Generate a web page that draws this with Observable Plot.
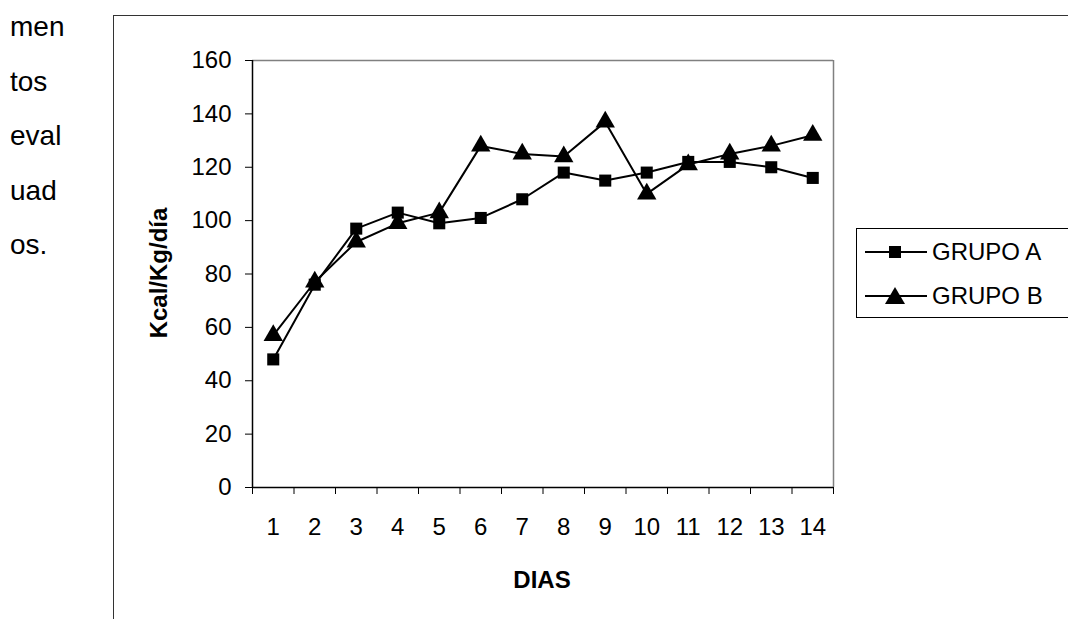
<!DOCTYPE html>
<html>
<head>
<meta charset="utf-8">
<script src="https://cdn.jsdelivr.net/npm/d3@7"></script>
<script src="https://cdn.jsdelivr.net/npm/@observablehq/plot@0.6"></script>
<style>
  html, body { margin: 0; padding: 0; background: #fff; }
  #wrap { position: relative; width: 1068px; height: 619px; overflow: hidden; font-family: "Liberation Sans", Arial, sans-serif; color: #000; background: #fff; }
  #wrap > svg { position: absolute; left: 0; top: 0; }
  .side { position: absolute; left: 10px; font-size: 28px; line-height: 1; }
  #frame { position: absolute; left: 113px; top: 15px; width: 1100px; height: 800px; border: 1.5px solid #333; box-sizing: border-box; }
  #ylab { position: absolute; left: 159px; top: 273px; transform: translate(-50%, -50%) rotate(-90deg); font-weight: bold; font-size: 24px; white-space: nowrap; }
  #xlab { position: absolute; left: 542px; top: 566px; transform: translateX(-50%); font-weight: bold; font-size: 24px; }
  #legend { position: absolute; left: 856px; top: 228px; width: 300px; height: 90px; border: 1px solid #000; box-sizing: border-box; background: #fff; }
  #wrap .lrow { position: absolute; left: 8px; height: 30px; display: flex; align-items: center; font-size: 24px; white-space: nowrap; }
  #wrap .lrow svg { position: static; display: block; margin-right: 5px; flex: none; }
</style>
</head>
<body>
<div id="wrap">
  <div id="frame"></div>
</div>
<script>
const dias = [1, 2, 3, 4, 5, 6, 7, 8, 9, 10, 11, 12, 13, 14];
const grupoA = [48, 76, 97, 103, 99, 101, 108, 118, 115, 118, 122, 122, 120, 116];
const grupoB = [57, 77, 92, 99, 103, 128, 125, 124, 137, 110, 121, 125, 128, 132];
const yTicks = [0, 20, 40, 60, 80, 100, 120, 140, 160];
const seriesNames = ["GRUPO A", "GRUPO B"];
const sideWords = ["men", "tos", "eval", "uad", "os."];
const yLabel = "Kcal/Kg/día";
const xLabel = "DIAS";

const dataA = dias.map((d, i) => ({dia: d, v: grupoA[i]}));
const dataB = dias.map((d, i) => ({dia: d, v: grupoB[i]}));
const bounds = d3.range(0.5, 15, 1);

const chart = Plot.plot({
  width: 1068,
  height: 619,
  marginLeft: 252,
  marginRight: 235,
  marginTop: 60,
  marginBottom: 132,
  style: {fontFamily: "Liberation Sans, Arial, sans-serif", fontSize: "24px", color: "#000", background: "transparent"},
  x: {type: "linear", domain: [0.5, 14.5]},
  y: {domain: [0, 160]},
  marks: [
    Plot.ruleY([160], {stroke: "#808080", strokeWidth: 1.5}),
    Plot.ruleX([14.5], {stroke: "#808080", strokeWidth: 1.5}),
    Plot.axisY({ticks: yTicks, tickSize: 7, tickPadding: 14, label: null, stroke: "#000"}),
    Plot.axisX({ticks: dias, tickSize: 0, tickPadding: 30, label: null}),
    Plot.axisX({ticks: bounds, tickSize: 7, tickFormat: () => "", label: null, stroke: "#000"}),
    Plot.ruleY([0], {stroke: "#000", strokeWidth: 1.5}),
    Plot.ruleX([0.5], {stroke: "#000", strokeWidth: 1.5}),
    Plot.line(dataA, {x: "dia", y: "v", stroke: "#000", strokeWidth: 2}),
    Plot.line(dataB, {x: "dia", y: "v", stroke: "#000", strokeWidth: 2}),
    Plot.dot(dataA, {x: "dia", y: "v", symbol: "square", r: 6.8, fill: "#000"}),
    Plot.dot(dataB, {x: "dia", y: "v", symbol: "triangle", r: 7.2, fill: "#000"})
  ]
});

const wrap = document.getElementById("wrap");
wrap.appendChild(chart);

sideWords.forEach((w, i) => {
  const el = document.createElement("div");
  el.className = "side";
  el.style.top = (13 + i * 54.5) + "px";
  el.textContent = w;
  wrap.appendChild(el);
});

const yl = document.createElement("div");
yl.id = "ylab"; yl.textContent = yLabel; wrap.appendChild(yl);
const xl = document.createElement("div");
xl.id = "xlab"; xl.textContent = xLabel; wrap.appendChild(xl);

const legend = document.createElement("div");
legend.id = "legend";
seriesNames.forEach((name, i) => {
  const row = document.createElement("div");
  row.className = "lrow";
  row.style.top = (8 + i * 44) + "px";
  const sym = i === 0
    ? '<rect x="24" y="9" width="12" height="12" fill="#000"/>'
    : '<path d="M30,6 L40,23 L20,23 Z" fill="#000"/>';
  row.innerHTML = '<svg width="62" height="30"><line x1="0" y1="15" x2="62" y2="15" stroke="#000" stroke-width="1.8"/>' + sym + '</svg><span>' + name + '</span>';
  legend.appendChild(row);
});
wrap.appendChild(legend);
</script>
</body>
</html>
